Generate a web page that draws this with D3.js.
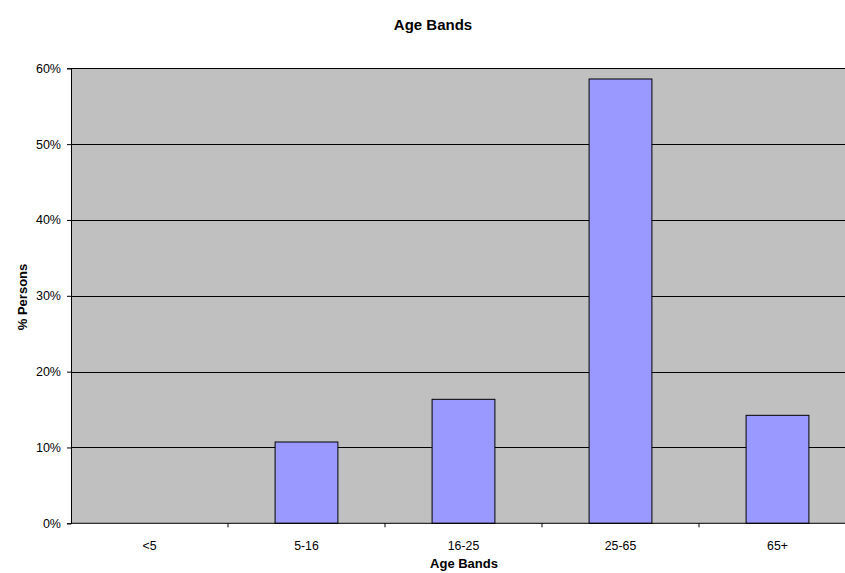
<!DOCTYPE html>
<html><head><meta charset="utf-8">
<script src="https://cdn.jsdelivr.net/npm/d3@7"></script>
<style>body{margin:0;background:#fff;}svg{display:block;font-family:"Liberation Sans",Arial,sans-serif;}</style>
</head><body>
<svg id="c" width="845" height="573"></svg>
<script>
const categories = ["<5", "5-16", "16-25", "25-65", "65+"];
const values = [0, 0.1072, 0.1635, 0.5859, 0.1424];
const yTicks = [0, 0.1, 0.2, 0.3, 0.4, 0.5, 0.6];

(function(){
const svg = d3.select("#c");
const pLeft = 71, pRight = 856, pTop = 68.3, pBottom = 523.3;
const x = d3.scaleBand().domain(categories).range([pLeft, pRight]).paddingInner(0.6).paddingOuter(0.3);
const xc = d3.scaleBand().domain(categories).range([pLeft, pRight]);
const y = d3.scaleLinear().domain([0, 0.6]).range([pBottom, pTop]);

svg.append("rect").attr("x", pLeft).attr("y", pTop).attr("width", pRight - pLeft).attr("height", pBottom - pTop).attr("fill", "#c0c0c0");

svg.append("g").selectAll("line").data(yTicks.slice(1)).join("line")
  .attr("x1", pLeft).attr("x2", pRight).attr("y1", d => Math.round(y(d)) + 0.5).attr("y2", d => Math.round(y(d)) + 0.5)
  .attr("stroke", "#000").attr("stroke-width", 1);

svg.append("g").selectAll("rect").data(values).join("rect")
  .attr("x", (d, i) => x(categories[i])).attr("width", x.bandwidth())
  .attr("y", d => y(d)).attr("height", d => pBottom - y(d))
  .attr("fill", "#9999ff").attr("stroke", "#000").attr("stroke-width", 1)
  .style("display", d => d > 0 ? null : "none");

const yAxis = d3.axisLeft(y).tickValues(yTicks).tickFormat(d3.format(".0%")).tickSize(4).tickPadding(6);
const gy = svg.append("g").attr("transform", `translate(${pLeft},0)`).call(yAxis);
gy.select(".domain").attr("stroke", "#000");
gy.selectAll("text").attr("font-size", 12.5).attr("fill", "#000").attr("font-family", "Liberation Sans, Arial, sans-serif");

const xAxis = d3.axisBottom(xc).tickSize(0).tickPadding(18);
const gx = svg.append("g").attr("transform", `translate(0,${pBottom})`).call(xAxis);
gx.select(".domain").remove();
gx.selectAll("text").attr("font-size", 12.3).attr("fill", "#000").attr("font-family", "Liberation Sans, Arial, sans-serif");
svg.append("line").attr("x1", pLeft).attr("x2", pRight).attr("y1", pBottom).attr("y2", pBottom).attr("stroke", "#000");
svg.append("g").selectAll("line").data(categories.slice(1)).join("line")
  .attr("x1", d => xc(d)).attr("x2", d => xc(d)).attr("y1", pBottom).attr("y2", pBottom + 4).attr("stroke", "#000");

svg.append("text").attr("x", 433).attr("y", 30).attr("text-anchor", "middle").attr("font-size", 15).attr("font-weight", "bold").text("Age Bands");
svg.append("text").attr("x", 464).attr("y", 568).attr("text-anchor", "middle").attr("font-size", 13).attr("font-weight", "bold").text("Age Bands");
svg.append("text").attr("transform", "translate(27,297) rotate(-90)").attr("text-anchor", "middle").attr("font-size", 13).attr("font-weight", "bold").text("% Persons");
})();
</script>
</body></html>
